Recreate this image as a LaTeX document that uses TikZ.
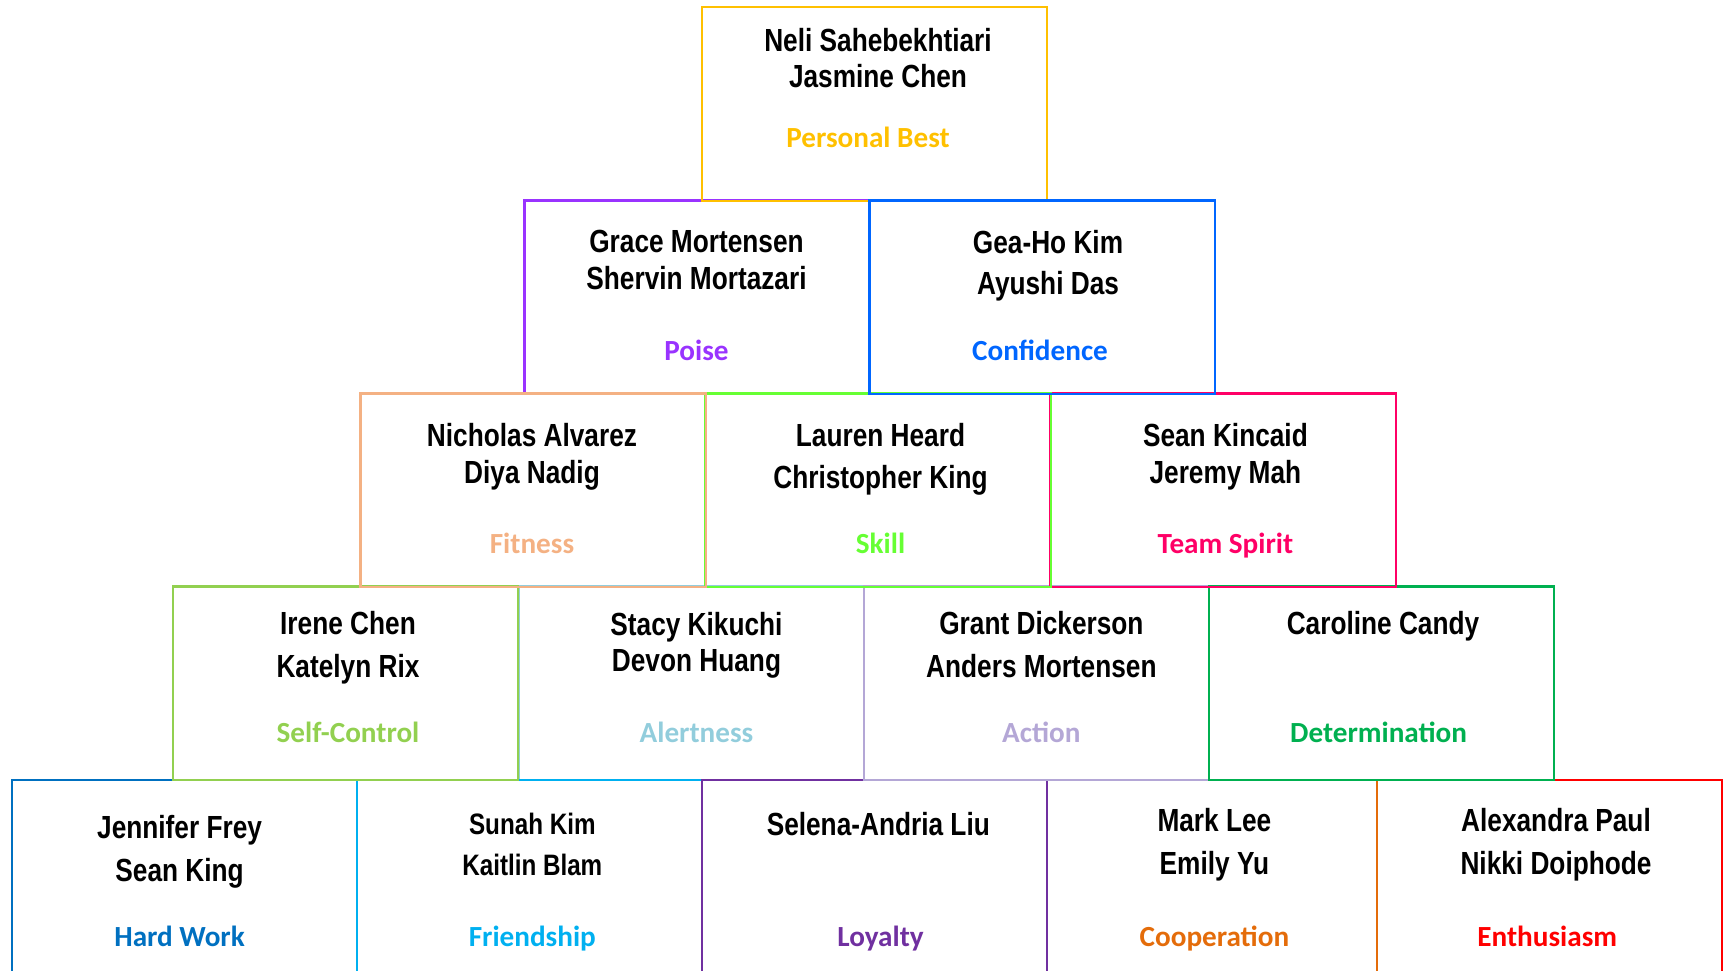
\documentclass[tikz,border=0pt]{standalone}
\usepackage{fontspec}
\newfontfamily\namefont[FakeStretch=0.82]{Liberation Sans}
\newfontfamily\tagfont{Carlito}
\definecolor{cbest}{HTML}{FFC000}
\definecolor{cpoise}{HTML}{9933FF}
\definecolor{cconf}{HTML}{0066FF}
\definecolor{cfit}{HTML}{F4B183}
\definecolor{cskill}{HTML}{66FF33}
\definecolor{cspirit}{HTML}{FF0066}
\definecolor{cselfc}{HTML}{92D050}
\definecolor{calert}{HTML}{92CDDC}
\definecolor{caction}{HTML}{B4A7D6}
\definecolor{cdeterm}{HTML}{00B050}
\definecolor{chard}{HTML}{0070C0}
\definecolor{cfriend}{HTML}{00B0F0}
\definecolor{cloyal}{HTML}{7030A0}
\definecolor{ccoop}{HTML}{E46C0A}
\definecolor{centh}{HTML}{FF0000}
\usetikzlibrary{positioning}
\tikzset{
  cell/.style = {rectangle, draw=#1, line width=0.6pt,
                 inner sep=0pt, outer sep=0pt,
                 minimum width=3.45cm, minimum height=1.935cm,
                 anchor=north west},
  who/.style  = {font=\namefont\bfseries\fontsize{9.1}{10.3}\selectfont,
                 align=center, anchor=base, inner sep=0pt},
  tag/.style  = {font=\tagfont\bfseries\fontsize{8.3}{10}\selectfont,
                 text=#1, anchor=base, inner sep=0pt}
}

\begin{document}
\begin{tikzpicture}[x=0.01cm, y=-0.01cm]
    \useasboundingbox (0,0) rectangle (1728,970);
    % untere Reihe zuerst, damit die oberen Kanten darueber liegen
    \node[cell=centh] (enth) at (1377,780) {};
    \node[cell=ccoop, minimum width=3.3cm] (coop) at (1047,780) {};
    \node[cell=calert] (alert) at (519,586.5) {};
    \node[cell=chard] (hard) at (12,780) {};
    \node[cell=cfriend] (friend) at (357,780) {};
    \node[cell=cloyal] (loyal) at (702,780) {};
    \node[cell=cselfc] (selfc) at (173,586.5) {};
    \node[cell=caction] (action) at (864,586.5) {};
    \node[cell=cdeterm] (determ) at (1209,586.5) {};
    \node[cell=cpoise] (poise) at (524.5,200.5) {};
    \node[cell=cspirit] (spirit) at (1050.5,393.5) {};
    \node[cell=cskill] (skill) at (705.5,393.5) {};
    \node[cell=cfit] (fit) at (360.5,393.5) {};
    \node[cell=cbest] (best) at (702,7) {};
    \node[cell=cconf] (conf) at (869.5,200.5) {};

    % Namen (Grundlinie der letzten Zeile) und Werte
    \node[who] (best-who) at (878,88) {Neli Sahebekhtiari\\Jasmine Chen};
    \node[tag=cbest] (best-tag) at (868,148) {Personal Best};

    \node[who] (poise-who) at (696.5,289.2) {Grace Mortensen\\Shervin Mortazari};
    \node[tag=cpoise] (poise-tag) at (696.5,360.5) {Poise};
    \node[who] (conf-who) at (1048,294.7) {Gea-Ho Kim\\[1.5pt]Ayushi Das};
    \node[tag=cconf] (conf-tag) at (1040,360.5) {Confidence};

    \node[who] (fit-who) at (532,483.2) {Nicholas Alvarez\\Diya Nadig};
    \node[tag=cfit] (fit-tag) at (532,553.4) {Fitness};
    \node[who] (skill-who) at (880.5,488.7) {Lauren Heard\\[1.8pt]Christopher King};
    \node[tag=cskill] (skill-tag) at (880.5,553.4) {Skill};
    \node[who] (spirit-who) at (1225.4,483.2) {Sean Kincaid\\Jeremy Mah};
    \node[tag=cspirit] (spirit-tag) at (1225.4,553.4) {Team Spirit};

    \node[who] (selfc-who) at (348,677.1) {Irene Chen\\[1.8pt]Katelyn Rix};
    \node[tag=cselfc] (selfc-tag) at (348,742.8) {Self-Control};
    \node[who] (alert-who) at (696.5,671.6) {Stacy Kikuchi\\Devon Huang};
    \node[tag=calert] (alert-tag) at (696.5,742.8) {Alertness};
    \node[who] (action-who) at (1041.4,677.1) {Grant Dickerson\\[1.8pt]Anders Mortensen};
    \node[tag=caction] (action-tag) at (1041.4,742.8) {Action};
    \node[who] (determ-who) at (1383,634) {Caroline Candy};
    \node[tag=cdeterm] (determ-tag) at (1378.6,742.8) {Determination};

    \node[who] (hard-who) at (179.6,881) {Jennifer Frey\\[1.8pt]Sean King};
    \node[tag=chard] (hard-tag) at (179.6,946.8) {Hard Work};
    \node[who, font=\namefont\bfseries\fontsize{8.4}{10.2}\selectfont]
      (friend-who) at (532.3,875) {Sunah Kim\\[1.4pt]Kaitlin Blam};
    \node[tag=cfriend] (friend-tag) at (532.3,946.8) {Friendship};
    \node[who] (loyal-who) at (878.3,835.8) {Selena-Andria Liu};
    \node[tag=cloyal] (loyal-tag) at (880.5,946.8) {Loyalty};
    \node[who] (coop-who) at (1214.4,874.4) {Mark Lee\\[1.8pt]Emily Yu};
    \node[tag=ccoop] (coop-tag) at (1214.4,946.8) {Cooperation};
    \node[who] (enth-who) at (1556,874.4) {Alexandra Paul\\[1.8pt]Nikki Doiphode};
    \node[tag=centh] (enth-tag) at (1547.2,946.8) {Enthusiasm};
\end{tikzpicture}
\end{document}
